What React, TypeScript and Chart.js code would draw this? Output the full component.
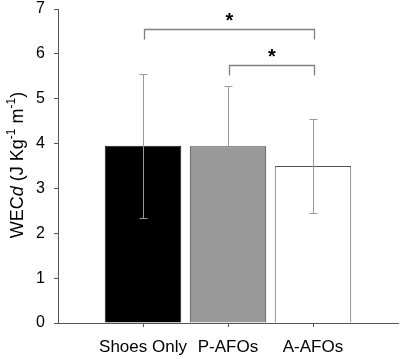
import React, { useEffect, useRef } from "react";
import { Chart, registerables } from "chart.js";

Chart.register(...registerables);

const categories = ["Shoes Only", "P-AFOs", "A-AFOs"];
const means = [3.95, 3.94, 3.5];
const errorUpper = [5.55, 5.28, 4.55];
const errorLower = [2.35, 2.61, 2.46];
const barColors = ["#000000", "#999999", "#ffffff"];
const barBorders = ["#1a1a1a", "#333333", "#555555"];
const yTicks = [0, 1, 2, 3, 4, 5, 6, 7];
const sigPairs = [
  [0, 2],
  [1, 2],
];
const sigLevels = [6.55, 5.75];
const sigDrop = 0.22;

const FONT = "'Liberation Sans', Arial, sans-serif";

const errorBarPlugin = {
  id: "errorBars",
  afterDatasetsDraw(chart: any) {
    const x = chart.scales.x;
    const y = chart.scales.y;
    const ctx = chart.ctx;
    ctx.save();
    ctx.strokeStyle = "#9a9a9a";
    ctx.lineWidth = 1;
    categories.forEach((_, i) => {
      const px = Math.round(x.getPixelForValue(i + 1)) + 0.5;
      const top = Math.round(y.getPixelForValue(errorUpper[i])) + 0.5;
      const bot = Math.round(y.getPixelForValue(errorLower[i])) + 0.5;
      ctx.beginPath();
      ctx.moveTo(px, top);
      ctx.lineTo(px, bot);
      ctx.moveTo(px - 4, top);
      ctx.lineTo(px + 4, top);
      ctx.moveTo(px - 4, bot);
      ctx.lineTo(px + 4, bot);
      ctx.stroke();
    });
    ctx.restore();
  },
};

const annotationPlugin = {
  id: "sigAndTitle",
  afterDraw(chart: any) {
    const x = chart.scales.x;
    const y = chart.scales.y;
    const ctx = chart.ctx;
    ctx.save();
    sigPairs.forEach((pair, k) => {
      const x1 = Math.round(x.getPixelForValue(pair[0] + 1)) + 1.5;
      const x2 = Math.round(x.getPixelForValue(pair[1] + 1)) + 1.5;
      const yl = Math.round(y.getPixelForValue(sigLevels[k])) + 0.5;
      const yd = Math.round(y.getPixelForValue(sigLevels[k] - sigDrop)) + 0.5;
      ctx.strokeStyle = "#808080";
      ctx.lineWidth = 1.3;
      ctx.beginPath();
      ctx.moveTo(x1, yd);
      ctx.lineTo(x1, yl);
      ctx.lineTo(x2, yl);
      ctx.lineTo(x2, yd);
      ctx.stroke();
      ctx.fillStyle = "#000000";
      ctx.font = `bold 20px ${FONT}`;
      ctx.textAlign = "center";
      ctx.textBaseline = "alphabetic";
      ctx.fillText("*", (x1 + x2) / 2, yl - 3);
    });

    const segs = [
      { t: "WEC", f: `18px ${FONT}`, dy: 0 },
      { t: "d", f: `italic 18px ${FONT}`, dy: 0 },
      { t: " (J Kg", f: `18px ${FONT}`, dy: 0 },
      { t: "-1", f: `12px ${FONT}`, dy: -8 },
      { t: " m", f: `18px ${FONT}`, dy: 0 },
      { t: "-1", f: `12px ${FONT}`, dy: -8 },
      { t: ")", f: `18px ${FONT}`, dy: 0 },
    ];
    let total = 0;
    segs.forEach((s) => {
      ctx.font = s.f;
      total += ctx.measureText(s.t).width;
    });
    ctx.translate(23, 165);
    ctx.rotate(-Math.PI / 2);
    ctx.fillStyle = "#000000";
    ctx.textAlign = "left";
    ctx.textBaseline = "alphabetic";
    let cx = -total / 2;
    segs.forEach((s) => {
      ctx.font = s.f;
      ctx.fillText(s.t, cx, s.dy);
      cx += ctx.measureText(s.t).width;
    });
    ctx.restore();
  },
};

export default function App() {
  const canvasRef = useRef<HTMLCanvasElement>(null);

  useEffect(() => {
    document.body.style.margin = "0";
    const labels = ["", ...categories, ""];
    const data = [null, ...means, null];
    const bg = ["transparent", ...barColors, "transparent"];
    const bd = ["transparent", ...barBorders, "transparent"];
    const chart = new Chart(canvasRef.current as HTMLCanvasElement, {
      type: "bar",
      data: {
        labels,
        datasets: [
          {
            data: data as any,
            backgroundColor: bg,
            borderColor: bd,
            borderWidth: 1,
            categoryPercentage: 1,
            barPercentage: 0.9,
          },
        ],
      },
      options: {
        responsive: false,
        animation: false,
        devicePixelRatio: 1,
        layout: { padding: { top: 9, right: 2, left: 0, bottom: 0 } },
        plugins: {
          legend: { display: false },
          tooltip: { enabled: false },
        },
        scales: {
          x: {
            offset: false,
            grid: {
              offset: false,
              drawOnChartArea: false,
              drawTicks: true,
              tickLength: 4,
              tickColor: (c: any) =>
                c.index === 0 || c.index === labels.length - 1 ? "transparent" : "#555555",
            },
            border: { display: true, color: "#555555", width: 1 },
            ticks: {
              color: "#000000",
              font: { family: FONT, size: 17 },
              padding: 10,
              maxRotation: 0,
              autoSkip: false,
            },
            afterFit: (s: any) => {
              s.height = 36;
              s.paddingLeft = 0;
              s.paddingRight = 0;
              s.paddingTop = 0;
              s.paddingBottom = 0;
            },
          },
          y: {
            min: 0,
            max: 7,
            afterBuildTicks: (s: any) => {
              s.ticks = yTicks.map((v) => ({ value: v }));
            },
            grid: {
              drawOnChartArea: false,
              drawTicks: true,
              tickLength: 4,
              tickColor: "#555555",
            },
            border: { display: true, color: "#555555", width: 1 },
            ticks: {
              color: "#000000",
              font: { family: FONT, size: 16 },
              padding: 9,
            },
            afterFit: (s: any) => {
              s.width = 58;
              s.paddingLeft = 0;
              s.paddingRight = 0;
              s.paddingTop = 0;
              s.paddingBottom = 0;
            },
          },
        },
      },
      plugins: [errorBarPlugin, annotationPlugin],
    });
    return () => chart.destroy();
  }, []);

  return (
    <div style={{ width: 400, height: 359 }}>
      <canvas ref={canvasRef} width={400} height={359} style={{ display: "block" }} />
    </div>
  );
}
